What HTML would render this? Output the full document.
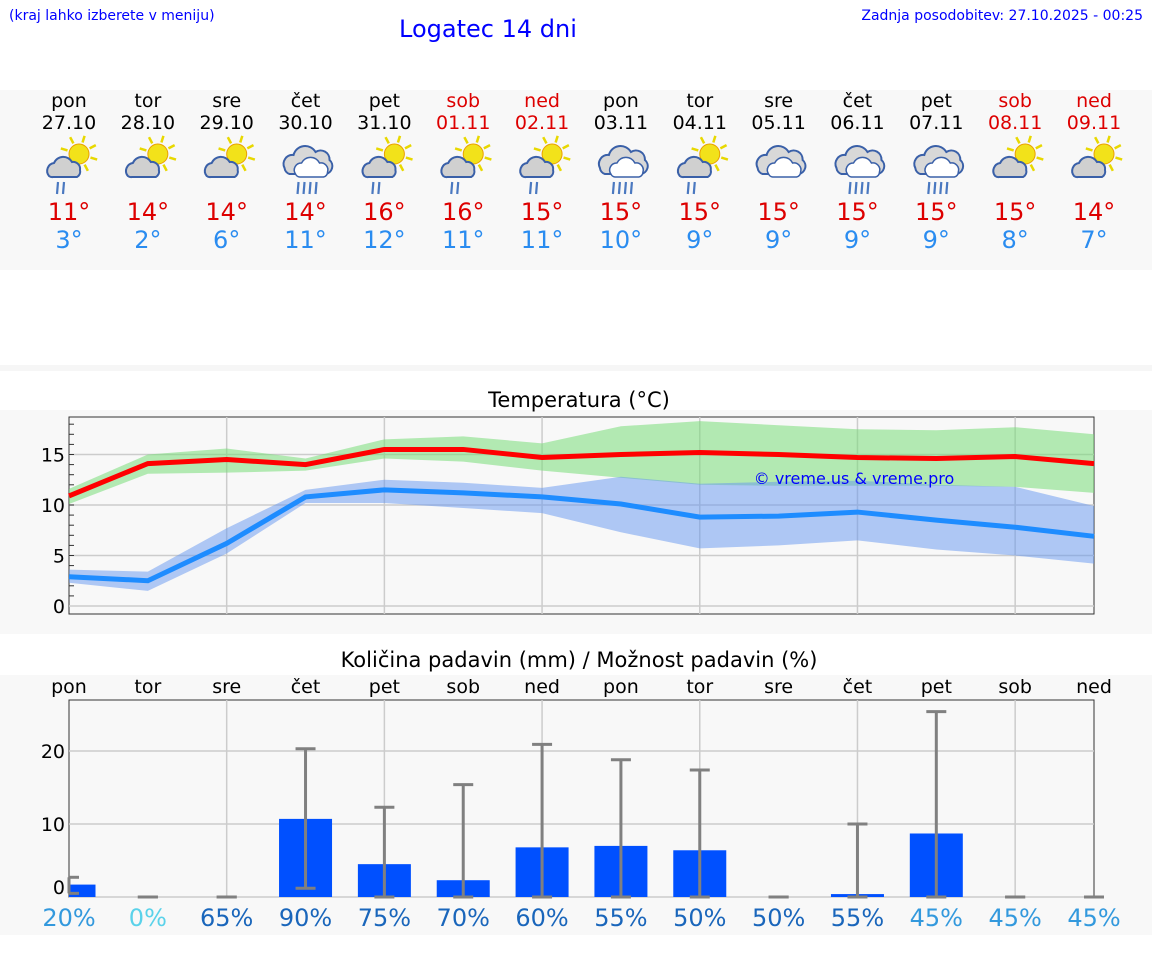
<!DOCTYPE html>
<html><head><meta charset="utf-8">
<style>
body{margin:0;width:1152px;height:975px;background:#fff;font-family:"DejaVu Sans","Liberation Sans",sans-serif;position:relative;overflow:hidden}
.abs{position:absolute}
</style></head>
<body>
<div class="abs" style="left:9px;top:8px;font-size:14px;color:#00f">(kraj lahko izberete v meniju)</div>
<div class="abs" style="left:399px;top:15px;font-size:24px;color:#00f">Logatec 14 dni</div>
<div class="abs" style="right:9px;top:8px;font-size:14px;color:#00f">Zadnja posodobitev: 27.10.2025 - 00:25</div>
<div class="abs" style="left:0;top:90px;width:1152px;height:180px;background:#f8f8f8"></div>
<div class="abs" style="left:0;top:365px;width:1152px;height:6px;background:#f6f6f6"></div>
<div class="abs" style="left:0;top:410px;width:1152px;height:224px;background:#f8f8f8"></div>
<div class="abs" style="left:0;top:675px;width:1152px;height:260px;background:#f8f8f8"></div>
<div class="abs" style="left:0;width:1158px;text-align:center;top:388px;font-size:21px">Temperatura (°C)</div>
<div class="abs" style="left:0;width:1158px;text-align:center;top:648px;font-size:21px">Količina padavin (mm) / Možnost padavin (%)</div>
<svg id="svg" class="abs" style="left:0;top:0" width="1152" height="975"></svg>
<script>
const days=["pon","tor","sre","čet","pet","sob","ned","pon","tor","sre","čet","pet","sob","ned"];
const dates=["27.10","28.10","29.10","30.10","31.10","01.11","02.11","03.11","04.11","05.11","06.11","07.11","08.11","09.11"];
const icons=["sr","sc","sc","cr","sr","sr","sr","cr","sr","c","cr","cr","sc","sc"];
const tmaxLbl=[11,14,14,14,16,16,15,15,15,15,15,15,15,14];
const tminLbl=[3,2,6,11,12,11,11,10,9,9,9,9,8,7];
const tmax=[10.9,14.1,14.5,14,15.5,15.5,14.7,15,15.2,15,14.7,14.6,14.8,14.1];
const tmaxHi=[11.6,15,15.6,14.6,16.5,16.8,16.1,17.8,18.3,17.9,17.5,17.4,17.7,17];
const tmaxLo=[10.1,13.1,13.2,13.4,14.6,14.3,13.4,12.7,12,11.9,11.9,11.9,11.8,11.2];
const tmin=[2.9,2.5,6.2,10.8,11.5,11.2,10.8,10.1,8.8,8.9,9.3,8.5,7.8,6.9];
const tminHi=[3.6,3.4,7.7,11.5,12.5,12.2,11.7,12.8,12.1,12.3,12.4,12,11.8,9.9];
const tminLo=[2.3,1.5,5.2,10.2,10.2,9.7,9.2,7.3,5.7,6,6.5,5.6,5,4.2];
const rain=[1.7,0,0,10.7,4.5,2.3,6.8,7.0,6.4,0,0.4,8.7,0,0];
const rainLo=[0.5,0,0,1.2,0,0,0,0,0,0,0,0,0,0];
const rainHi=[2.7,0,0,20.3,12.3,15.4,20.9,18.8,17.4,0,10,25.4,0,0];
const prob=[20,0,65,90,75,70,60,55,50,50,55,45,45,45];
const tTicks=[0,5,10,15];
const rTicks=[0,10,20];
const NS="http://www.w3.org/2000/svg";
const svg=document.getElementById('svg');
function el(t,a,p){const e=document.createElementNS(NS,t);for(const k in a)e.setAttribute(k,a[k]);(p||svg).appendChild(e);return e;}
const X0=69,X1=1094,step=(X1-X0)/13;
const xd=i=>X0+i*step;
const yt=v=>606-v*10.1;
const yr=v=>897-v*7.3;
days.forEach((d,i)=>{
 const x=xd(i);const we=(i==5||i==6||i==12||i==13);
 let t=el('text',{x:x,y:107,'text-anchor':'middle','font-size':19,fill:we?'#d00':'#000'});t.textContent=d;
 
 t=el('text',{x:x,y:129,'text-anchor':'middle','font-size':19,fill:we?'#d00':'#000'});t.textContent=dates[i];
 
 t=el('text',{x:x,y:220,'text-anchor':'middle','font-size':24,fill:'#d00'});t.textContent=tmaxLbl[i]+'°';
 
 t=el('text',{x:x,y:248,'text-anchor':'middle','font-size':24,fill:'#2a8cf0'});t.textContent=tminLbl[i]+'°';
 
 const g=el('g',{transform:`translate(${x-24},138) scale(1.0)`});
 
 const ic=icons[i];
 if(ic[0]=='s'){
  for(let k=0;k<8;k++){const a=k*Math.PI/4+0.3;el('line',{x1:34+Math.cos(a)*12,y1:16+Math.sin(a)*12,x2:34+Math.cos(a)*19,y2:16+Math.sin(a)*19,stroke:'#e8d800','stroke-width':2.5},g);}
  el('circle',{cx:34,cy:16,r:10,fill:'#f2e21a',stroke:'#e8a000','stroke-width':1},g);
  el('path',{d:'M4,38 a8,8 0 0 1 5,-13 a10,10 0 0 1 18,-1 a7,7 0 0 1 8,8 a6,6 0 0 1 -3,7 h-24 a5,5 0 0 1 -4,-1 z',fill:'#d0d0d0',stroke:'#3a60a8','stroke-width':2},g);
 } else {
  el('path',{d:'M3,30 a9,9 0 0 1 9,-13 a12,12 0 0 1 22,-3 a9,9 0 0 1 14,8 a8,8 0 0 1 -4,14 h-36 a7,7 0 0 1 -5,-6 z',fill:'#d8d8d8',stroke:'#3a60a8','stroke-width':2},g);
  el('path',{d:'M14,36 a7,7 0 0 1 6,-11 a10,10 0 0 1 18,0 a7,7 0 0 1 8,9 a5,5 0 0 1 -4,5 h-24 a5,5 0 0 1 -4,-3 z',fill:'#fff',stroke:'#3a60a8','stroke-width':1.5},g);
 }
 if(ic[1]=='r'){
  const n=ic[0]=='s'?2:4;
  for(let k=0;k<n;k++){const bx=(ic[0]=='s'?12:16)+k*6;el('line',{x1:bx+1,y1:44,x2:bx,y2:56,stroke:'#4a78c0','stroke-width':2.2},g);}
 }
});
const tg=el('g',{});
el('rect',{x:X0,y:417,width:X1-X0,height:197,fill:'#f8f8f8',stroke:'#333','stroke-width':1},tg);
tTicks.forEach(v=>{el('line',{x1:X0,x2:X1,y1:yt(v),y2:yt(v),stroke:'#ccc','stroke-width':1.5},tg);
 const t=el('text',{x:X0-4,y:yt(v)+7,'text-anchor':'end','font-size':19},tg);t.textContent=v;
 });
for(let v=1;v<=18;v++)el('line',{x1:X0,x2:X0+5,y1:yt(v),y2:yt(v),stroke:'#333'},tg);
for(let i=2;i<13;i+=2)el('line',{x1:xd(i),x2:xd(i),y1:417,y2:614,stroke:'#ccc','stroke-width':1.5},tg);
function band(hi,lo,col,name){let d='M'+hi.map((v,i)=>xd(i)+','+yt(v)).join('L')+'L'+lo.map((v,i)=>xd(i)+','+yt(v)).reverse().join('L')+'Z';
 const p=el('path',{d:d,fill:col},tg);}
function line(v,col,name){const p=el('polyline',{points:v.map((a,i)=>xd(i)+','+yt(a)).join(' '),fill:'none',stroke:col,'stroke-width':5},tg);
 }
band(tmaxHi,tmaxLo,'rgba(120,220,120,0.55)','max-temp-range');
band(tminHi,tminLo,'rgba(100,150,240,0.5)','min-temp-range');
line(tmax,'#ff0000','max-temp-line');line(tmin,'#1e8cff','min-temp-line');
let wm=el('text',{x:854,y:484,'text-anchor':'middle','font-size':16,fill:'#00f'},tg);wm.textContent='© vreme.us & vreme.pro';

const pg=el('g',{});
el('rect',{x:X0,y:700,width:X1-X0,height:197,fill:'#f8f8f8',stroke:'#333','stroke-width':1},pg);
rTicks.forEach(v=>{el('line',{x1:X0,x2:X1,y1:yr(v),y2:yr(v),stroke:'#ccc','stroke-width':1.5},pg);
 const t=el('text',{x:X0-4,y:v==0?yr(v)-3:yr(v)+7,'text-anchor':'end','font-size':19},pg);t.textContent=v;
 });
for(let i=2;i<13;i+=2)el('line',{x1:xd(i),x2:xd(i),y1:700,y2:897,stroke:'#ccc','stroke-width':1.5},pg);
const probCol=p=>p<10?'#5ad2ea':p<50?'#3399dd':'#1a66bb';
rain.forEach((v,i)=>{const x=xd(i);
 const bx=Math.max(X0,x-26.5),bw=Math.min(x+26.5,X1)-bx;
 if(v>0){const b=el('rect',{x:bx,y:yr(v),width:bw,height:yr(0)-yr(v),fill:'#0050ff'},pg);
  }
 const e=el('g',{},pg);
 el('line',{x1:x,x2:x,y1:yr(rainHi[i]),y2:yr(rainLo[i]),stroke:'#808080','stroke-width':3},e);
 el('line',{x1:Math.max(X0,x-10),x2:x+10,y1:yr(rainHi[i]),y2:yr(rainHi[i]),stroke:'#808080','stroke-width':3},e);
 el('line',{x1:Math.max(X0,x-10),x2:x+10,y1:yr(rainLo[i]),y2:yr(rainLo[i]),stroke:'#808080','stroke-width':3},e);
 let t=el('text',{x:x,y:693,'text-anchor':'middle','font-size':19});t.textContent=days[i];
 
 t=el('text',{x:x,y:926,'text-anchor':'middle','font-size':24,fill:probCol(prob[i])});t.textContent=prob[i]+'%';
 
});
</script>
</body></html>
